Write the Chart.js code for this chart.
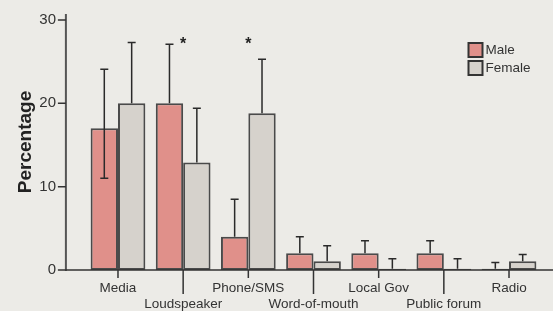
<!DOCTYPE html>
<html><head><meta charset="utf-8">
<script src="https://cdn.jsdelivr.net/npm/chart.js@4/dist/chart.umd.min.js"></script>
<style>html,body{margin:0;padding:0;background:#ECEBE7;}canvas{display:block;}</style>
</head><body>
<canvas id="c" width="553" height="311"></canvas>
<script>
const categories = ['Media', 'Loudspeaker', 'Phone/SMS', 'Word-of-mouth', 'Local Gov', 'Public forum', 'Radio'];
const maleValues = [17, 20, 4, 2, 2, 2, 0.15];
const femaleValues = [20, 12.9, 18.8, 1.05, 0.15, 0.15, 1.05];
const maleErrUpper = [24.1, 27.1, 8.5, 4.0, 3.5, 3.5, 0.9];
const maleErrLower = [11.0, null, null, null, null, null, null];
const femaleErrUpper = [27.3, 19.4, 25.3, 2.9, 1.35, 1.35, 1.85];
const femaleErrLower = [null, null, null, null, null, null, null];
const significance = ['', '*', '*', '', '', '', ''];
const yTicks = [0, 10, 20, 30];

const FONT = "'Liberation Sans', Arial, Helvetica, sans-serif";
const TEXT = '#333333';
const AXIS = '#555555';
const errUpper = [maleErrUpper, femaleErrUpper];
const errLower = [maleErrLower, femaleErrLower];

const decor = {
  id: 'decor',
  afterDatasetsDraw(chart) {
    const ctx = chart.ctx, ys = chart.scales.y, xs = chart.scales.x;
    const ca = chart.chartArea;
    const axisX = ca.left - 19.5;
    ctx.save();
    ctx.strokeStyle = '#2a2a2a';
    ctx.lineWidth = 1.5;
    chart.data.datasets.forEach((ds, di) => {
      const meta = chart.getDatasetMeta(di);
      meta.data.forEach((bar, i) => {
        const top = ys.getPixelForValue(ds.data[i]);
        const up = errUpper[di][i], lo = errLower[di][i];
        ctx.beginPath();
        if (up != null) {
          const py = ys.getPixelForValue(up);
          ctx.moveTo(bar.x, top); ctx.lineTo(bar.x, py);
          ctx.moveTo(bar.x - 4, py); ctx.lineTo(bar.x + 4, py);
        }
        if (lo != null) {
          const py = ys.getPixelForValue(lo);
          ctx.moveTo(bar.x, top); ctx.lineTo(bar.x, py);
          ctx.moveTo(bar.x - 4, py); ctx.lineTo(bar.x + 4, py);
        }
        ctx.stroke();
      });
    });
    ctx.strokeStyle = AXIS;
    ctx.lineWidth = 2;
    ctx.beginPath();
    ctx.moveTo(axisX, ca.top); ctx.lineTo(axisX, ca.bottom + 1);
    ctx.stroke();
    ctx.strokeStyle = '#333';
    ctx.lineWidth = 1.5;
    ctx.beginPath();
    ctx.moveTo(axisX, ca.bottom); ctx.lineTo(chart.width, ca.bottom);
    yTicks.forEach(v => {
      const py = ys.getPixelForValue(v);
      ctx.moveTo(axisX - 8, py); ctx.lineTo(axisX, py);
    });
    categories.forEach((c, i) => {
      const px = xs.getPixelForValue(i);
      ctx.moveTo(px, ca.bottom); ctx.lineTo(px, ca.bottom + (i % 2 ? 24 : 8));
    });
    ctx.stroke();
    ctx.fillStyle = '#222';
    ctx.font = 'bold 16px ' + FONT;
    ctx.textAlign = 'center';
    ctx.textBaseline = 'alphabetic';
    significance.forEach((s, i) => {
      if (s) ctx.fillText(s, xs.getPixelForValue(i), ys.getPixelForValue(26.5));
    });
    const lx = 468.5, ly = [43, 61];
    ctx.textAlign = 'left';
    ctx.textBaseline = 'middle';
    ctx.font = '13.5px ' + FONT;
    chart.data.datasets.forEach((ds, di) => {
      ctx.fillStyle = ds.backgroundColor;
      ctx.fillRect(lx, ly[di], 14, 14);
      ctx.strokeStyle = '#333';
      ctx.lineWidth = 2;
      ctx.strokeRect(lx, ly[di], 14, 14);
      ctx.fillStyle = TEXT;
      ctx.fillText(ds.label, lx + 17, ly[di] + 7.5);
    });
    ctx.restore();
  }
};

new Chart(document.getElementById('c'), {
  type: 'bar',
  data: {
    labels: categories.map((c, i) => i % 2 ? ['', c] : c),
    datasets: [
      { label: 'Male', data: maleValues, backgroundColor: '#E0908A', borderColor: '#4a4a4a', borderWidth: 2, borderSkipped: false },
      { label: 'Female', data: femaleValues, backgroundColor: '#D6D2CC', borderColor: '#4a4a4a', borderWidth: 2, borderSkipped: false }
    ]
  },
  options: {
    responsive: false,
    animation: false,
    layout: { padding: { top: 14, right: 11.4, left: 0, bottom: 0 } },
    plugins: { legend: { display: false }, tooltip: { enabled: false } },
    datasets: { bar: { categoryPercentage: 0.84, barPercentage: 1.0 } },
    scales: {
      x: {
        grid: { display: false, drawTicks: false },
        border: { display: false },
        ticks: { color: TEXT, font: { family: FONT, size: 13.5 }, padding: 10, maxRotation: 0, autoSkip: false },
        afterFit(s) { s.height = 41; s.paddingLeft = 0; s.paddingRight = 0; }
      },
      y: {
        min: 0, max: 30.72,
        grid: { display: false, drawTicks: false },
        border: { display: false },
        ticks: { color: TEXT, font: { family: FONT, size: 15 }, padding: 29.4 },
        afterBuildTicks(s) { s.ticks = yTicks.map(v => ({ value: v })); },
        afterFit(s) { s.width = 85.4; s.paddingTop = 0; s.paddingBottom = 0; },
        title: { display: true, text: 'Percentage', color: '#222', font: { family: FONT, size: 19, weight: 'bold' }, padding: { top: 14, bottom: 0 } }
      }
    }
  },
  plugins: [decor]
});
</script>
</body></html>
